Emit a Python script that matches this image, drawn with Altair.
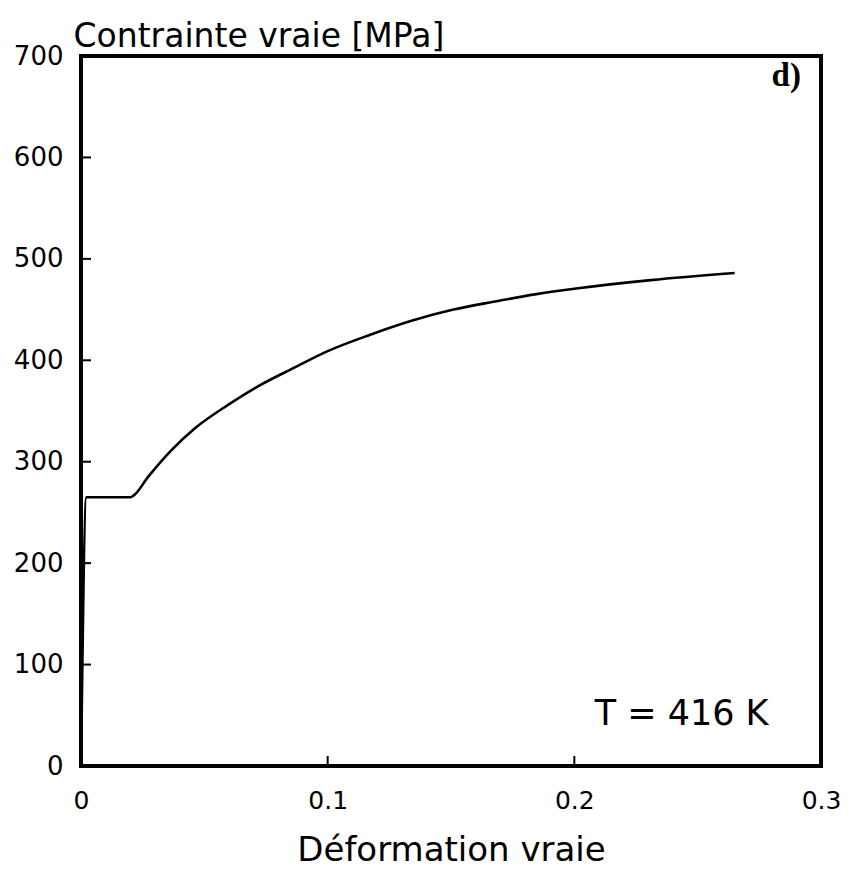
import altair as alt
import pandas as pd

# Data
strain = [0.0, 0.0022, 0.020, 0.0215, 0.0272, 0.0365, 0.0462, 0.0596, 0.073,
          0.0867, 0.100, 0.117, 0.134, 0.151, 0.168, 0.184, 0.2015, 0.231, 0.265]
stress = [0, 265, 265, 267, 285, 311, 333, 356, 376,
          393, 409, 425, 439, 450, 458, 465, 471, 479, 486]

y_ticks = [0, 100, 200, 300, 400, 500, 600, 700]
x_ticks = [0, 0.1, 0.2, 0.3]
y_inner_ticks = [100, 200, 300, 400, 500, 600]
x_inner_ticks = [0.1, 0.2]

labels_text = ["d)", "T = 416 K"]
labels_x = [0.2859, 0.2435]
labels_y = [680, 51]

W, H = 740, 710
SANS = "DejaVu Sans"

curve = pd.DataFrame({"strain": strain, "stress": stress})
yt = pd.DataFrame({"strain": [0.0] * len(y_inner_ticks), "stress": y_inner_ticks})
xt = pd.DataFrame({"strain": x_inner_ticks, "stress": [0.0] * len(x_inner_ticks)})
ann = pd.DataFrame({"t": labels_text, "strain": labels_x, "stress": labels_y})

xscale = alt.Scale(domain=[0, 0.3], nice=False, zero=False)
yscale = alt.Scale(domain=[0, 700], nice=False)

xaxis = alt.Axis(values=x_ticks, format="~g", ticks=False, grid=False, domain=False,
                 labelFontSize=25, labelFont=SANS, labelColor="black",
                 labelPadding=22, labelFlush=False,
                 titleFontSize=34, titleFont=SANS,
                 titleFontWeight="normal", titleColor="black",
                 titleBaseline="alphabetic", titleY=94)
yaxis = alt.Axis(values=y_ticks, ticks=False, grid=False, domain=False,
                 labelFontSize=26, labelFont=SANS, labelColor="black",
                 labelPadding=18, labelFlush=False,
                 titleFontSize=33, titleFont=SANS,
                 titleFontWeight="normal", titleColor="black", titleAngle=0,
                 titleAlign="left", titleBaseline="alphabetic", titleX=-8, titleY=-10)

X = alt.X("strain:Q", scale=xscale, axis=xaxis, title="Déformation vraie")
Y = alt.Y("stress:Q", scale=yscale, axis=yaxis, title="Contrainte vraie [MPa]")

line = alt.Chart(curve).mark_line(color="black", strokeWidth=2.6, interpolate="monotone").encode(
    x=X, y=Y, order="strain:Q",
)

ytick_marks = alt.Chart(yt).mark_rule(color="black", strokeWidth=2).encode(
    y=Y, x=alt.value(0), x2=alt.value(10))
xtick_marks = alt.Chart(xt).mark_rule(color="black", strokeWidth=2).encode(
    x=X, y=alt.value(H), y2=alt.value(H - 10))

ann_d = alt.Chart(ann.iloc[[0]]).mark_text(font="Liberation Serif", fontSize=33,
                                             color="black", fontWeight="bold").encode(
    x=X, y=Y, text="t:N")
ann_t = alt.Chart(ann.iloc[[1]]).mark_text(font=SANS, fontSize=35,
                                             color="black").encode(
    x=X, y=Y, text="t:N")

chart = alt.layer(line, ytick_marks, xtick_marks, ann_d, ann_t).properties(
    width=W, height=H,
    autosize=alt.AutoSizeParams(type="none"),
    padding={"left": 73, "top": 48, "right": 20, "bottom": 104},
    background="white",
).configure_view(stroke="black", strokeWidth=4)

chart.save("out.html", embed_options={"renderer": "svg", "actions": False})
